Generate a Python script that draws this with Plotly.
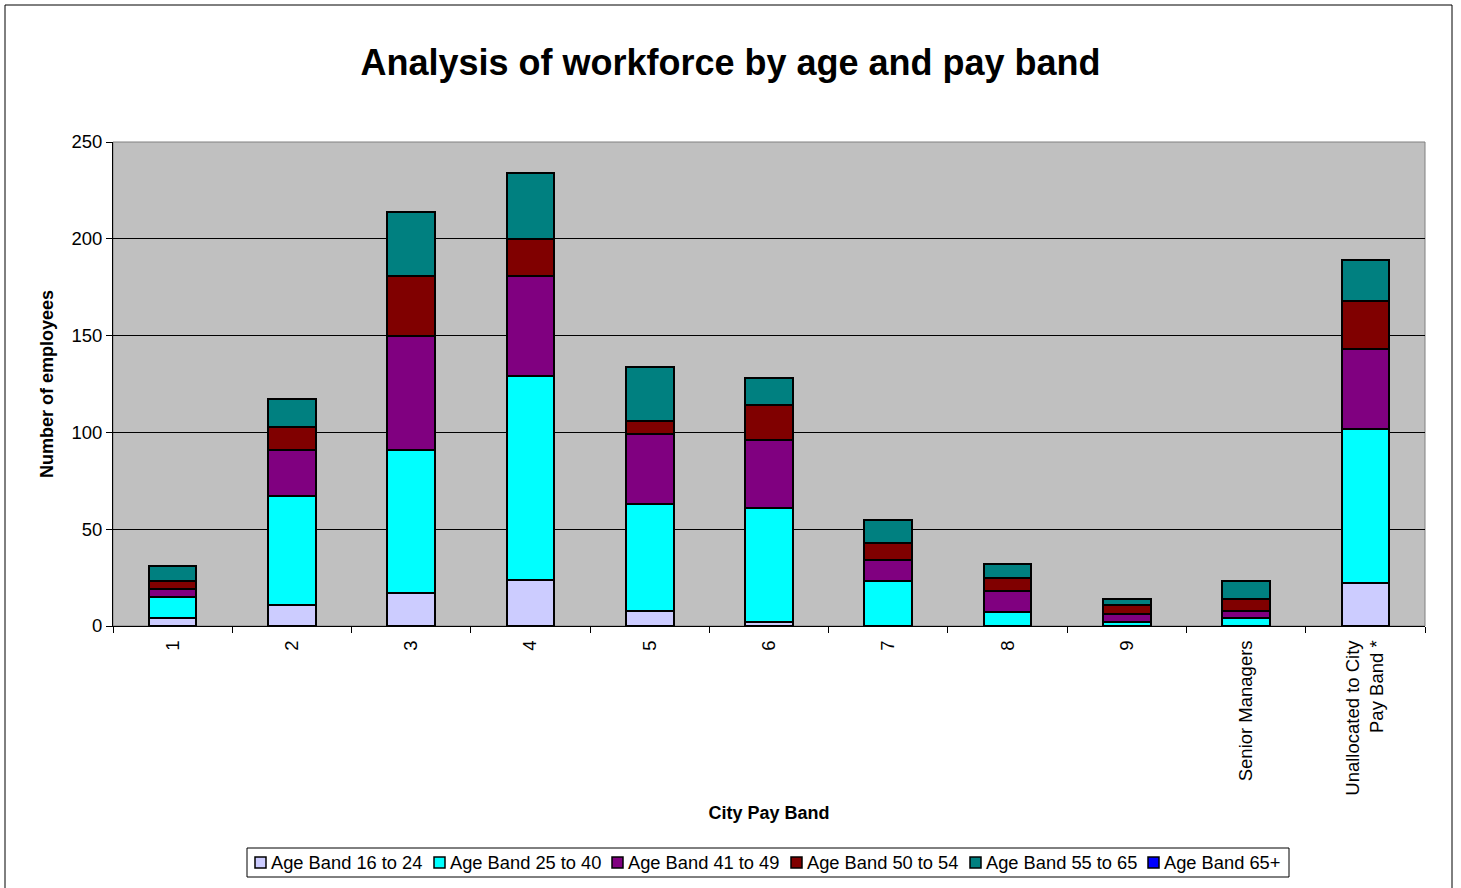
import plotly.graph_objects as go

# Pay bands on the x axis
pay_bands = ["1", "2", "3", "4", "5", "6", "7", "8", "9",
             "Senior Managers", "Unallocated to City<br>Pay Band *"]

# Headcount per age band for each pay band
age_16_24 = [4, 11, 17, 24, 8, 2, 0, 0, 0, 0, 22]
age_25_40 = [11, 56, 74, 105, 55, 59, 23, 7, 2, 4, 80]
age_41_49 = [4, 24, 59, 52, 36, 35, 11, 11, 4, 4, 41]
age_50_54 = [4, 12, 31, 19, 7, 18, 9, 7, 5, 6, 25]
age_55_65 = [8, 14, 33, 34, 28, 14, 12, 7, 3, 9, 21]
age_65_plus = [0, 0, 0, 0, 0, 0, 0, 0, 0, 0, 0]

series = [
    ("Age Band 16 to 24", age_16_24, "#CCCCFF"),
    ("Age Band 25 to 40", age_25_40, "#00FFFF"),
    ("Age Band 41 to 49", age_41_49, "#800080"),
    ("Age Band 50 to 54", age_50_54, "#800000"),
    ("Age Band 55 to 65", age_55_65, "#008080"),
    ("Age Band 65+", age_65_plus, "#0000FF"),
]

FONT = "Arial, Liberation Sans, sans-serif"

fig = go.Figure()
for name, vals, color in series:
    fig.add_trace(go.Bar(
        x=pay_bands, y=vals, name=name, showlegend=False,
        marker=dict(color=color, line=dict(color="black", width=2)),
    ))

# plot area spans pixels x 113..1425, y 142..626
L, R, T, B = 113, 36, 142, 262
W, H = 1461, 888
pw, ph = W - L - R, H - T - B


def px_x(p):
    return (p - L) / pw


def px_y(p):
    return (H - B - p) / ph


shapes = [
    # plot area frame
    dict(type="rect", xref="paper", yref="paper", x0=0, x1=1, y0=0, y1=1,
         line=dict(color="#808080", width=1), layer="below"),
    # chart frame
    dict(type="rect", xref="paper", yref="paper",
         x0=px_x(5), x1=px_x(1452), y0=px_y(895), y1=px_y(5),
         line=dict(color="black", width=1)),
    # legend box
    dict(type="rect", xref="paper", yref="paper",
         x0=px_x(247), x1=px_x(1289), y0=px_y(877), y1=px_y(848),
         line=dict(color="black", width=1), fillcolor="white"),
]
annotations = []

# legend entries: small outlined swatch followed by its label
legend_left = [255, 434, 612, 791, 970, 1148]
for (name, _vals, color), lx in zip(series, legend_left):
    shapes.append(dict(type="rect", xref="paper", yref="paper",
                       x0=px_x(lx), x1=px_x(lx + 11),
                       y0=px_y(868), y1=px_y(857),
                       line=dict(color="black", width=1.5), fillcolor=color))
    annotations.append(dict(text=name, xref="paper", yref="paper",
                            x=px_x(lx + 14), y=px_y(863),
                            xanchor="left", yanchor="middle", showarrow=False,
                            font=dict(family=FONT, size=18.3, color="black")))

fig.update_layout(
    width=W, height=H,
    margin=dict(l=L, r=R, t=T, b=B, autoexpand=False),
    barmode="stack",
    bargap=0.6,
    paper_bgcolor="white",
    plot_bgcolor="#C0C0C0",
    font=dict(family=FONT, size=18, color="black"),
    title=dict(text="<b>Analysis of workforce by age and pay band</b>",
               x=0.5, xanchor="center", y=1 - 62 / H, yanchor="middle",
               font=dict(family=FONT, size=36, color="black")),
    showlegend=False,
    shapes=shapes,
    annotations=annotations,
)

fig.update_yaxes(
    range=[0, 250], tickvals=[0, 50, 100, 150, 200, 250],
    automargin=False,
    showgrid=True, gridcolor="black", gridwidth=1,
    showline=True, linecolor="black", linewidth=1,
    ticks="outside", ticklen=6, tickcolor="black",
    tickfont=dict(family=FONT, size=18.5),
    zeroline=False,
    title=dict(text="<b>Number of employees</b>", standoff=13,
               font=dict(family=FONT, size=18)),
)
fig.update_xaxes(
    type="category",
    automargin=False,
    showline=True, linecolor="black", linewidth=1,
    ticks="outside", ticklen=6, tickcolor="black", tickson="boundaries",
    tickangle=-90, ticklabelstandoff=6,
    tickfont=dict(family=FONT, size=18.5),
    title=dict(text="<b>City Pay Band</b>", standoff=11,
               font=dict(family=FONT, size=18)),
)

fig.write_html("out.html")
